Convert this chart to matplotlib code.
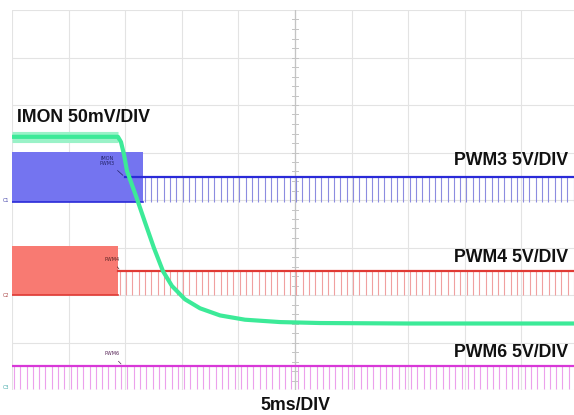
#!/usr/bin/env python3
"""
Scope capture: IMON and PWM3/4/6 gate signals during a phase shed event.
Time axis in ms (5 ms/div), vertical axis in divisions.
"""

import numpy as np
import matplotlib.pyplot as plt
from matplotlib.patches import Rectangle

# Screen geometry
N_XDIV = 10
N_YDIV = 8
MS_PER_DIV = 5.0

# IMON trace (time ms, level in div)
imon_t = [0.0, 9.36, 9.63, 9.9, 10.16, 10.96, 11.75, 12.54, 13.34, 14.13,
          15.28, 16.61, 18.38, 20.58, 23.68, 27.21, 35.0, 50.0]
imon_v = [5.33, 5.33, 5.22, 4.95, 4.61, 4.08, 3.53, 2.99, 2.50, 2.19,
          1.91, 1.72, 1.57, 1.48, 1.43, 1.41, 1.40, 1.40]
imon_flat_end = 9.36

# PWM channels: switching band (start, stop, low, high) and tri-state level afterwards
pwm_names = ['PWM3', 'PWM4', 'PWM6']
pwm_band_end = [11.57, 9.36, 0.0]
pwm_low = [3.96, 2.0, 0.02]
pwm_high = [5.01, 3.03, 0.505]
pwm_mid = [4.48, 2.5, 0.505]
pwm_mid_start = [9.98, 9.36, 0.0]
pwm_period = 0.557  # ms between pulses after shedding

fill_colors = ['#7474f0', '#f87a72', '#d838d8']
line_colors = ['#2a2ad8', '#e03a34', '#d838d8']
tick_colors = ['#8c8ce0', '#f0a0a0', '#eca0ec']

# Labels
ch_labels = ['PWM3 5V/DIV', 'PWM4 5V/DIV', 'PWM6 5V/DIV']
ch_label_y = [4.84, 2.8, 0.8]
imon_label = 'IMON 50mV/DIV'
time_label = '5ms/DIV'

fig = plt.figure(figsize=(5.74, 4.15), dpi=100)
# axes spans px 12..578 horizontally (slightly past the right edge) and 10..390 vertically
ax = fig.add_axes([12 / 574, 25 / 415, 566 / 574, 380 / 415])
ax.set_xlim(0, N_XDIV * MS_PER_DIV)
ax.set_ylim(0, N_YDIV)
ax.set_axis_off()

# graticule
for i in range(N_XDIV + 1):
    ax.axvline(i * MS_PER_DIV, color='#e3e3e3', lw=0.8, zorder=0)
for j in range(N_YDIV + 1):
    ax.axhline(j, color='#e3e3e3', lw=0.8, zorder=0)
ax.axvline(25, color='#c4c4c4', lw=0.9, zorder=0)
for yy in np.arange(0, N_YDIV, 0.2):
    ax.plot([24.75, 25.25], [yy, yy], color='#c4c4c4', lw=0.7, zorder=0)

# PWM channels
for k in range(3):
    end = pwm_band_end[k]
    if end > 0:
        ax.add_patch(Rectangle((0, pwm_low[k]), end, pwm_high[k] - pwm_low[k],
                               facecolor=fill_colors[k], edgecolor='none', zorder=2))
        ax.plot([0, end], [pwm_low[k], pwm_low[k]], color=line_colors[k], lw=1.2, zorder=3)
    ticks = np.arange(end + pwm_period * 0.3, 50, pwm_period)
    ax.vlines(ticks, pwm_low[k], pwm_mid[k], color=tick_colors[k], lw=0.8, zorder=2)
    ax.plot([pwm_mid_start[k], 50], [pwm_mid[k], pwm_mid[k]],
            color=line_colors[k], lw=1.6, zorder=3)

# small channel tags
ax.annotate('IMON\nPWM3', xy=(9.98, 4.48), xytext=(8.4, 4.82), fontsize=3.5,
            color='#222266', ha='center', va='center', linespacing=0.9,
            arrowprops=dict(arrowstyle='-', color='#222266', lw=0.5), zorder=5)
ax.annotate('PWM4', xy=(9.6, 2.5), xytext=(8.8, 2.75), fontsize=3.5,
            color='#552222', ha='center', va='center',
            arrowprops=dict(arrowstyle='-', color='#552222', lw=0.5), zorder=5)
ax.annotate('PWM6', xy=(9.8, 0.505), xytext=(8.8, 0.76), fontsize=3.5,
            color='#552255', ha='center', va='center',
            arrowprops=dict(arrowstyle='-', color='#552255', lw=0.5), zorder=5)
ax.text(-0.2, 3.98, 'C1', fontsize=3.5, color='#4444aa', ha='right', va='center', clip_on=False)
ax.text(-0.2, 2.0, 'C2', fontsize=3.5, color='#aa4444', ha='right', va='center', clip_on=False)
ax.text(-0.2, 0.05, 'C3', fontsize=3.5, color='#44aaaa', ha='right', va='center', clip_on=False)

# IMON: noisy band on the flat part, then the bright trace
ax.plot([0, imon_flat_end], [imon_v[0], imon_v[0]], color='#9af2c8', lw=8,
        solid_capstyle='butt', zorder=4)
ax.plot(imon_t, imon_v, color='#3cea98', lw=3.0, solid_joinstyle='round',
        solid_capstyle='butt', zorder=4)

# text
bold = dict(fontsize=12.8, fontweight='bold', family='Liberation Sans', color='#111111')
ax.text(0.45, 5.73, imon_label, ha='left', va='center', **bold)
for lab, yy in zip(ch_labels, ch_label_y):
    ax.text(49.15, yy, lab, ha='right', va='center', **bold)
fig.text(295 / 574, 1 - 405 / 415, time_label, ha='center', va='center', **bold)

fig.savefig('out.png', dpi=100)
